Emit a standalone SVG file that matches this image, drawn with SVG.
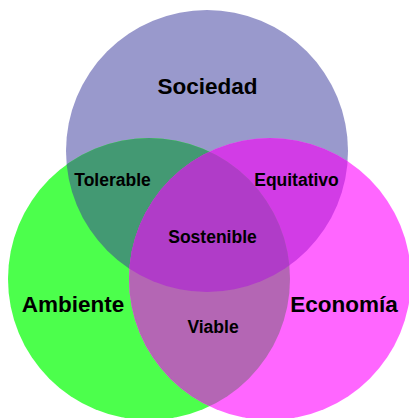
<svg xmlns="http://www.w3.org/2000/svg" width="409" height="418" viewBox="0 0 409 418">
<style>
text{font-family:"Liberation Sans",Arial,sans-serif;font-weight:bold;fill:#000;text-anchor:middle}
.big{font-size:22.5px}
.sm{font-size:17.5px}
</style>
<defs>
<clipPath id="cTop"><circle cx="207" cy="151" r="141"/></clipPath>
<clipPath id="cMag"><circle cx="270" cy="279" r="141"/></clipPath>
</defs>
<rect width="409" height="418" fill="#fff"/>
<g id="sociedad"><circle cx="207" cy="151" r="141" fill="#9999CC"/><text class="big" x="207.5" y="94">Sociedad</text></g>
<g id="ambiente"><circle cx="149" cy="279" r="141" fill="#4CFF4C"/><text class="big" x="73" y="312">Ambiente</text></g>
<g id="economia"><circle cx="270" cy="279" r="141" fill="#FF66FF"/><text class="big" x="344" y="312">Economía</text></g>
<g id="tolerable"><circle cx="149" cy="279" r="141" fill="#439973" clip-path="url(#cTop)"/></g>
<g id="equitativo"><circle cx="270" cy="279" r="141" fill="#D23CE6" clip-path="url(#cTop)"/></g>
<g id="viable"><circle cx="149" cy="279" r="141" fill="#B466B4" clip-path="url(#cMag)"/></g>
<g id="sostenible"><g clip-path="url(#cTop)"><circle cx="149" cy="279" r="141" fill="#B03CC8" clip-path="url(#cMag)"/></g></g>
<g id="labels">
<text class="sm" x="112.5" y="186">Tolerable</text>
<text class="sm" x="296.5" y="186">Equitativo</text>
<text class="sm" x="212.5" y="243">Sostenible</text>
<text class="sm" x="213" y="333">Viable</text>
</g>
</svg>
